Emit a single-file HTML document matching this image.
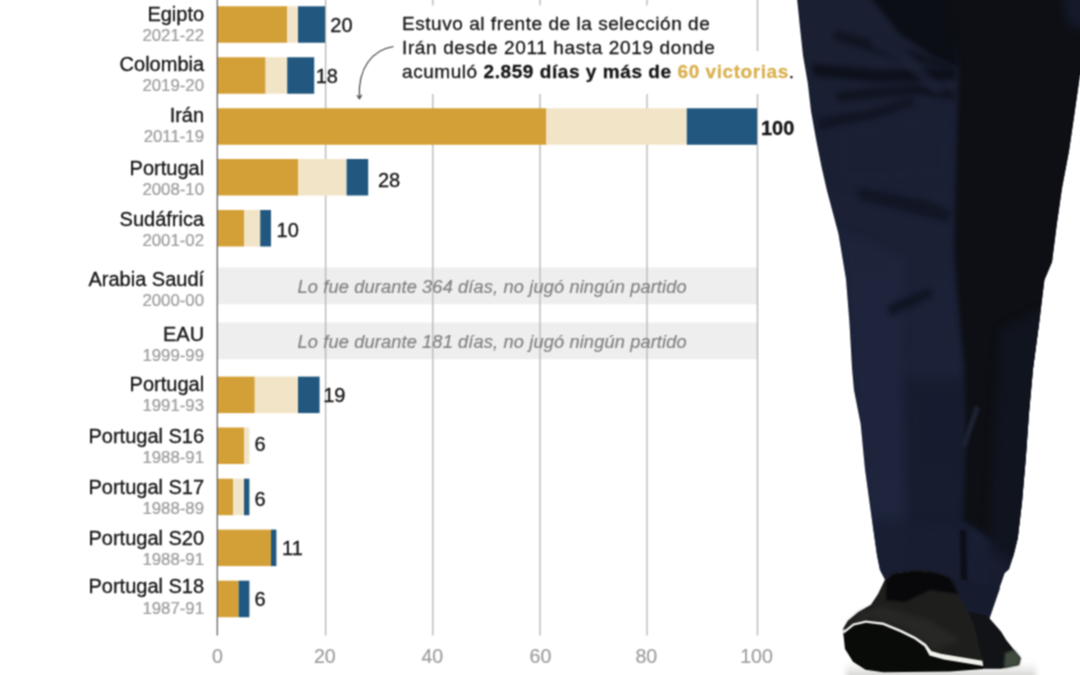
<!DOCTYPE html>
<html lang="es"><head><meta charset="utf-8"><title>Selecciones</title>
<style>
html,body{margin:0;padding:0;background:#fff;}
body{width:1080px;height:675px;overflow:hidden;position:relative;}
svg{position:absolute;left:-20px;top:-20px;display:block;}
text{font-family:"Liberation Sans",sans-serif;}
.cat{font-size:20px;fill:#151515;stroke:#151515;stroke-width:.3px;text-anchor:end;}
.yr{font-size:16.8px;fill:#9c9c9c;stroke:#9c9c9c;stroke-width:.22px;text-anchor:end;}
.val{font-size:20px;fill:#151515;stroke:#151515;stroke-width:.3px;}
.ax{font-size:19.6px;fill:#9e9e9e;stroke:#9e9e9e;stroke-width:.22px;text-anchor:middle;}
.note{font-size:18.2px;fill:#828282;stroke:#828282;stroke-width:.2px;font-style:italic;letter-spacing:0.15px;}
.ann{font-size:19px;fill:#151515;stroke:#151515;stroke-width:.28px;letter-spacing:0.5px;}
.b{font-weight:bold;}
</style></head><body>
<svg width="1120" height="715" viewBox="-20 -20 1120 715">
<defs><filter id="soft" filterUnits="userSpaceOnUse" x="-20" y="-20" width="1120" height="715" color-interpolation-filters="sRGB"><feConvolveMatrix order="3" kernelMatrix="1 2 1 2 4 2 1 2 1" divisor="16" edgeMode="duplicate" preserveAlpha="true"/></filter></defs>
<g filter="url(#soft)">
<rect x="-20" y="-20" width="1120" height="715" fill="#fff"/>

<rect x="217.0" y="267.5" width="540.5" height="36.75" fill="#eeeeee"/>
<rect x="217.0" y="322.5" width="540.5" height="36.75" fill="#eeeeee"/>
<line x1="325.6" y1="-20" x2="325.6" y2="635.5" stroke="#b4b4b4" stroke-width="1.3"/>
<line x1="432.8" y1="-20" x2="432.8" y2="635.5" stroke="#b4b4b4" stroke-width="1.3"/>
<line x1="540.0" y1="-20" x2="540.0" y2="635.5" stroke="#b4b4b4" stroke-width="1.3"/>
<line x1="647.0" y1="-20" x2="647.0" y2="635.5" stroke="#b4b4b4" stroke-width="1.3"/>
<line x1="757.5" y1="-20" x2="757.5" y2="635.5" stroke="#b4b4b4" stroke-width="1.3"/>
<rect x="396" y="5.5" width="330" height="88.5" fill="#fff"/>
<rect x="700" y="51" width="100" height="43" fill="#fff"/>
<text class="cat" x="204.1" y="20.9">Egipto</text>
<text class="yr" x="204" y="40.7">2021-22</text>
<rect x="217.0" y="6.25" width="70.2" height="36.5" fill="#d3a037"/>
<rect x="287.2" y="6.25" width="10.8" height="36.5" fill="#f2e4c7"/>
<rect x="298.0" y="6.25" width="27.0" height="36.5" fill="#22587f"/>
<text class="val" x="330.3" y="32.3">20</text>
<text class="cat" x="204.1" y="70.9">Colombia</text>
<text class="yr" x="204" y="91.3">2019-20</text>
<rect x="217.0" y="57.25" width="48.6" height="36.5" fill="#d3a037"/>
<rect x="265.6" y="57.25" width="21.6" height="36.5" fill="#f2e4c7"/>
<rect x="287.2" y="57.25" width="27.0" height="36.5" fill="#22587f"/>
<text class="val" x="315.7" y="83.3">18</text>
<text class="cat" x="204.1" y="122.0">Irán</text>
<text class="yr" x="204" y="142.4">2011-19</text>
<rect x="217.0" y="108.25" width="329.4" height="36.5" fill="#d3a037"/>
<rect x="546.4" y="108.25" width="140.4" height="36.5" fill="#f2e4c7"/>
<rect x="686.8" y="108.25" width="70.2" height="36.5" fill="#22587f"/>
<text class="val b" x="760.9" y="135.3">100</text>
<text class="cat" x="204.1" y="175.3">Portugal</text>
<text class="yr" x="204" y="195.3">2008-10</text>
<rect x="217.0" y="159.0" width="81.0" height="36.5" fill="#d3a037"/>
<rect x="298.0" y="159.0" width="48.6" height="36.5" fill="#f2e4c7"/>
<rect x="346.6" y="159.0" width="21.6" height="36.5" fill="#22587f"/>
<text class="val" x="377.9" y="186.7">28</text>
<text class="cat" x="204.1" y="225.6">Sudáfrica</text>
<text class="yr" x="204" y="245.5">2001-02</text>
<rect x="217.0" y="210.0" width="27.0" height="36.5" fill="#d3a037"/>
<rect x="244.0" y="210.0" width="16.2" height="36.5" fill="#f2e4c7"/>
<rect x="260.2" y="210.0" width="10.8" height="36.5" fill="#22587f"/>
<text class="val" x="276.6" y="237.0">10</text>
<text class="cat" x="204.1" y="285.5">Arabia Saudí</text>
<text class="yr" x="204" y="305.5">2000-00</text>
<text class="note" x="297.5" y="292.6">Lo fue durante 364 días, no jugó ningún partido</text>
<text class="cat" x="204.1" y="340.9">EAU</text>
<text class="yr" x="204" y="361.0">1999-99</text>
<text class="note" x="297.5" y="347.6">Lo fue durante 181 días, no jugó ningún partido</text>
<text class="cat" x="204.1" y="391.1">Portugal</text>
<text class="yr" x="204" y="411.0">1991-93</text>
<rect x="217.0" y="376.6" width="37.8" height="36.5" fill="#d3a037"/>
<rect x="254.8" y="376.6" width="43.2" height="36.5" fill="#f2e4c7"/>
<rect x="298.0" y="376.6" width="21.6" height="36.5" fill="#22587f"/>
<text class="val" x="323.2" y="402.0">19</text>
<text class="cat" x="204.1" y="442.6">Portugal S16</text>
<text class="yr" x="204" y="462.9">1988-91</text>
<rect x="217.0" y="427.5" width="27.0" height="36.5" fill="#d3a037"/>
<rect x="244.0" y="427.5" width="5.4" height="36.5" fill="#f2e4c7"/>
<text class="val" x="254.5" y="451.2">6</text>
<text class="cat" x="204.1" y="494.1">Portugal S17</text>
<text class="yr" x="204" y="514.3">1988-89</text>
<rect x="217.0" y="478.7" width="16.2" height="36.5" fill="#d3a037"/>
<rect x="233.2" y="478.7" width="10.8" height="36.5" fill="#f2e4c7"/>
<rect x="244.0" y="478.7" width="5.4" height="36.5" fill="#22587f"/>
<text class="val" x="254.5" y="506.2">6</text>
<text class="cat" x="204.1" y="545.3">Portugal S20</text>
<text class="yr" x="204" y="565.3">1988-91</text>
<rect x="217.0" y="529.6" width="54.0" height="36.5" fill="#d3a037"/>
<rect x="271.0" y="529.6" width="5.4" height="36.5" fill="#22587f"/>
<text class="val" x="282.0" y="555.3">11</text>
<text class="cat" x="204.1" y="593.2">Portugal S18</text>
<text class="yr" x="204" y="613.6">1987-91</text>
<rect x="217.0" y="580.7" width="21.6" height="36.5" fill="#d3a037"/>
<rect x="238.6" y="580.7" width="10.8" height="36.5" fill="#22587f"/>
<text class="val" x="254.5" y="606.2">6</text>
<line x1="217.3" y1="-20" x2="217.3" y2="635.5" stroke="#5a5a5a" stroke-width="1.2"/>
<text class="ax" x="217.5" y="663.2">0</text>
<text class="ax" x="324.8" y="663.2">20</text>
<text class="ax" x="432.3" y="663.2">40</text>
<text class="ax" x="540.4" y="663.2">60</text>
<text class="ax" x="646.3" y="663.2">80</text>
<text class="ax" x="756.5" y="663.2">100</text>
<text class="ann" x="402" y="29.6" style="letter-spacing:.54px">Estuvo al frente de la selección de</text>
<text class="ann" x="402" y="53.7" style="letter-spacing:.63px">Irán desde 2011 hasta 2019 donde</text>
<text class="ann" x="402" y="77.6" style="letter-spacing:.56px">acumuló <tspan class="b">2.859 días y más de </tspan><tspan class="b" fill="#dab04f" stroke="#dab04f">60 victorias</tspan>.</text>
<path d="M393.5 46.5 C372 50 358 68 359.3 97.5" fill="none" stroke="#333" stroke-width="1.1"/>
<path d="M356.9 95.2 L359.4 98.8 L361.7 94.9" fill="none" stroke="#333" stroke-width="1.1"/>
<!-- legs photo approximation -->
<defs>
<clipPath id="legclip"><path d="M795 -20 L797.2 0 L800 27.8 L803 55.6 L807.8 83.3 L811 111 L816 139 L821.5 166.7 L826.8 190 L838.5 234 L846 279 L849.5 323 L852 368 L854 390 L860.7 424 L865 469 L871 513 L877 555 L880 570 L885 579.5 L893 573.5 L915 570.5 L936 572.5 L950 577.5 L957 592 L965.6 608 L969 612 L987 615.6 L992.2 606.6 L998.4 590.6 L1004.5 573 L1009 569 L1013.6 555 L1017.8 538 L1022 502 L1025.8 458 L1029 413 L1033 369 L1039 324 L1044.4 280 L1052 262 L1056.7 225 L1062 188 L1069 151 L1074.4 114 L1080 75 L1100 60 L1100 -20 Z"/></clipPath>
<filter color-interpolation-filters="sRGB" id="bl3" filterUnits="userSpaceOnUse" x="700" y="-60" width="460" height="800"><feGaussianBlur color-interpolation-filters="sRGB" stdDeviation="2.5"/></filter>
<filter color-interpolation-filters="sRGB" id="bl6" filterUnits="userSpaceOnUse" x="700" y="-60" width="460" height="800"><feGaussianBlur color-interpolation-filters="sRGB" stdDeviation="5"/></filter>
<filter color-interpolation-filters="sRGB" id="bl1" filterUnits="userSpaceOnUse" x="700" y="-60" width="460" height="800"><feGaussianBlur color-interpolation-filters="sRGB" stdDeviation="1.1"/></filter>
<linearGradient id="shad" x1="0" y1="0" x2="0" y2="1"><stop offset="0" stop-color="#a5a7a2" stop-opacity="0"/><stop offset="1" stop-color="#a0a29d" stop-opacity=".6"/></linearGradient>
<linearGradient id="nav" gradientUnits="userSpaceOnUse" x1="0" y1="0" x2="0" y2="620"><stop offset="0" stop-color="#1a1f31"/><stop offset=".5" stop-color="#1b2136"/><stop offset="1" stop-color="#1c2238"/></linearGradient>
</defs>
<g id="legs">
<g clip-path="url(#legclip)">
<rect x="790" y="-20" width="320" height="645" fill="url(#nav)"/>
<!-- brighter left half lower -->
<path d="M840 230 L905 260 L903 380 L906 560 L870 570 Z" fill="#232b45" opacity=".38" filter="url(#bl6)"/>
<!-- medium right half of front leg, lower -->
<path d="M906 380 L970 380 L970 580 L912 575 Z" fill="#151a2b" opacity=".6" filter="url(#bl6)"/>
<!-- dark right part -->
<path d="M928 -30 L959 66 L955.5 190 L954 249 L958.5 308 L964.4 368 L966 439 L964 498 L963 520 L985 535 L1030 570 L1110 570 L1110 -30 Z" fill="#0d0f14" filter="url(#bl3)"/>
<path d="M1000 330 L1060 300 L1060 600 L985 600 Z" fill="#121622" opacity=".8" filter="url(#bl6)"/>
<!-- highlight streak between legs -->
<path d="M975 405 L980 408 L966 448 L961 446 Z" fill="#1c2232" filter="url(#bl1)"/>
<!-- lower navy hem of back leg -->
<path d="M870 520 L960 525 L985 548 L1030 580 L1030 630 L870 630 Z" fill="#191e32" opacity=".85" filter="url(#bl6)"/>
<path d="M960 530 L966 530 L968 612 L961 600 Z" fill="#0c0f18" filter="url(#bl1)"/>
<!-- top dark folds -->
<path d="M850 -28 L940 -28 L960 68 L936 58 L900 34 Z" fill="#0b0e15" filter="url(#bl3)"/>
<path d="M812 64 L880 70 L956 68 L956 80 L880 82 L814 76 Z" fill="#0c0f18" opacity=".85" filter="url(#bl3)"/>
<path d="M835 30 L900 48 L950 62 L948 70 L895 58 L835 40 Z" fill="#0d111b" opacity=".7" filter="url(#bl3)"/>
<path d="M836 92 L915 84 L956 92 L955 100 L915 94 L838 102 Z" fill="#0e121d" opacity=".8" filter="url(#bl3)"/>
<path d="M818 118 L870 110 L912 96 L915 104 L872 120 L820 130 Z" fill="#0f1320" opacity=".75" filter="url(#bl3)"/>
<path d="M858 188 L926 200 L952 212 L946 222 L900 210 L860 200 Z" fill="#0f1320" opacity=".75" filter="url(#bl3)"/>
<path d="M888 306 L910 296 L930 288 L932 296 L912 306 L890 316 Z" fill="#0e121e" opacity=".8" filter="url(#bl3)"/>
<!-- ridge highlights -->
<path d="M872 36 L905 48 L945 92 L935 94 L900 62 L870 46 Z" fill="#1e2438" opacity=".7" filter="url(#bl3)"/>
<path d="M830 130 L950 110 L952 180 L840 185 Z" fill="#1c2236" opacity=".6" filter="url(#bl6)"/>
<path d="M1058 -25 L1105 -25 L1105 32 L1068 26 Z" fill="#15192a" filter="url(#bl6)"/>
</g>
<!-- ground shadow -->
<rect x="846" y="662" width="190" height="20" fill="url(#shad)" filter="url(#bl3)"/>
<path d="M950 577 L1000 588 L989 620 L966 618 Z" fill="#161b2d"/>
<!-- back shoe -->
<path d="M969 612 L987 615.4 L1001 631.4 L1006.4 640.3 L1020.7 658 L1019 665 L1001 668.8 L975 668.8 Z" fill="#121317"/>
<path d="M1005 653 L1014 650 L1020.7 658 L1019 665 L1004 668 Z" fill="#3f4b3d" filter="url(#bl1)"/>
<!-- front shoe upper -->
<path d="M842.4 629.7 L847.8 620.8 L858.4 611.9 L870.9 604.8 L878 594 L885 579.5 L893 573.5 L915 570.5 L936 572.5 L950 577.5 L957 592 L965.6 608 L974.4 626 L978 644 L983.3 661.7 L983 667 L940 660 L900 640 L865 625 Z" fill="#1e1f1d"/>
<!-- toe lighter -->
<path d="M846 626 L860 613 L880 606 L930 620 L960 640 L935 650 L905 628 L870 618 Z" fill="#2b2c29" opacity=".7" filter="url(#bl3)"/>
<!-- ankle shadow -->
<path d="M886 580 L893 573.5 L915 570.5 L936 572.5 L950 577.5 L958 594 L930 590 L905 602 L886 600 Z" fill="#08080a" filter="url(#bl1)"/>
<!-- sole -->
<path d="M843 631 L853 623.4 L865.6 620.4 L883.3 622.6 L901 629.7 L915.3 636.8 L926 643.9 L931.3 651 L940.2 655.4 L983.3 662 L983 669 L950 671.4 L883.3 672.3 L865.6 669.7 L853 661.7 L845 649 Z" fill="#090b08"/>
<!-- white stripe -->
<path d="M842.6 631.8 L853 623.4 L865.6 620.4 L883.3 622.6 L901 629.7 L915.3 636.8 L926 643.9 L931.3 651 L940.7 653.7 L982.4 660.8 L983.3 666 L944 659.5 L929.5 655.5 L924.5 646.5 L914.5 639.3 L900.3 632.2 L883 625 L866 622.8 L854 625.6 L844 633.6 Z" fill="#f1f1ec"/>
</g>

</g></svg></body></html>
